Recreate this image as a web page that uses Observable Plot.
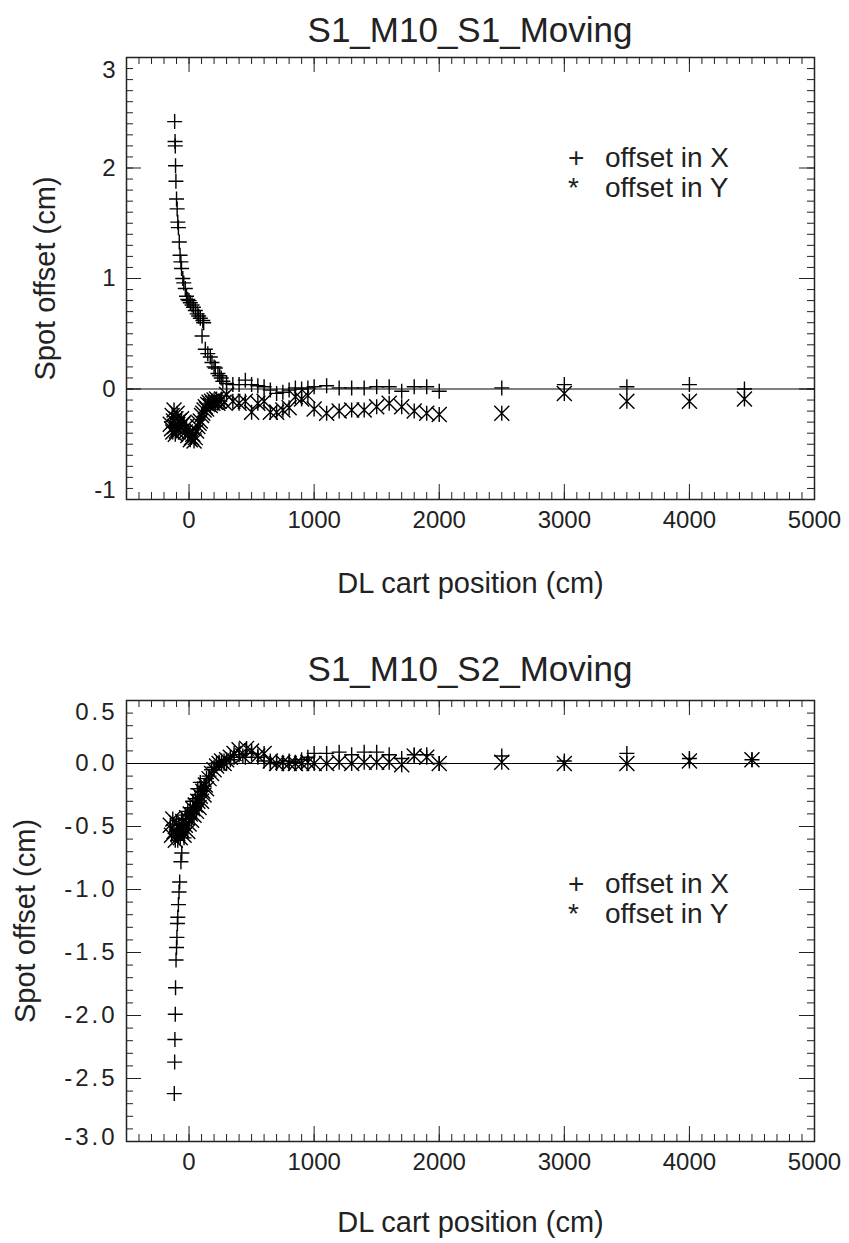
<!DOCTYPE html>
<html><head><meta charset="utf-8">
<script src="https://cdn.jsdelivr.net/npm/d3@7"></script>
<script src="https://cdn.jsdelivr.net/npm/@observablehq/plot@0.6"></script>
<style>
body{margin:0;background:#fff;width:849px;height:1243px;position:relative;overflow:hidden;font-family:"Liberation Sans",Arial,sans-serif;color:#222}
.title{position:absolute;left:126px;width:688px;text-align:center;font-size:35px;line-height:35px;white-space:nowrap}
.chart{position:absolute;left:0}
.leg{position:absolute;font-size:28px;line-height:30px;white-space:nowrap}
.leg span{position:absolute;top:0}
#c2 g[text-anchor="end"] text{letter-spacing:3px}
</style></head><body>
<div class="title" style="top:12px">S1_M10_S1_Moving</div>
<div class="chart" id="c1" style="top:50px"></div>
<div class="leg" style="left:0;top:143px;width:849px;height:60px">
  <span style="left:568px">+</span><span style="left:605px">offset in X</span>
  <span style="left:568px;top:30px">*</span><span style="left:605px;top:30px">offset in Y</span>
</div>
<div class="title" style="top:651px">S1_M10_S2_Moving</div>
<div class="chart" id="c2" style="top:690px"></div>
<div class="leg" style="left:0;top:869px;width:849px;height:60px">
  <span style="left:568px">+</span><span style="left:605px">offset in X</span>
  <span style="left:568px;top:30px">*</span><span style="left:605px;top:30px">offset in Y</span>
</div>
<script>
// ---------- Data ----------
// Top panel: S1_M10_S1_Moving
const s1XPos = [-115,-112,-110,-108,-105,-100,-95,-90,-85,-78,-72,-65,-60,-50,-42,-30,-20,-10,0,10,24,35,50,65,77,90,110,117,104,130,150,170,183,200,210,231,245,257,270,
  300,350,400,450,500,550,600,650,700,750,800,850,900,950,1000,
  1100,1200,1300,1400,1500,1600,1700,1800,1900,2000,
  2500,3000,3500,4000,4440];
const s1XOff = [2.42,2.24,2.20,2.02,1.88,1.72,1.63,1.51,1.46,1.33,1.21,1.15,1.09,1.00,0.96,0.91,0.84,0.81,0.80,0.78,0.76,0.74,0.71,0.68,0.66,0.64,0.62,0.60,0.48,0.36,0.32,0.29,0.24,0.20,0.19,0.14,0.12,0.10,0.07,
  0.05,0.04,0.04,0.08,0.04,0.03,0.02,-0.01,-0.04,-0.03,-0.01,0.01,0.00,0.01,0.02,
  0.03,0.01,0.01,0.01,0.02,0.02,-0.02,0.02,0.02,-0.02,
  0.01,0.04,0.02,0.04,0.00];
const s1YPos = [-150,-140,-135,-130,-125,-120,-115,-110,-105,-100,-95,-90,-85,-80,-70,-60,-50,-40,-30,-20,-10,0,10,20,30,40,50,60,70,80,90,100,110,120,130,140,150,160,170,180,190,200,210,220,230,240,260,280,
  300,350,400,450,500,550,600,650,700,750,800,850,900,950,1000,
  1100,1200,1300,1400,1500,1600,1700,1800,1900,2000,
  2500,3000,3500,4000,4440];
const s1YOff = [-0.32,-0.36,-0.24,-0.39,-0.29,-0.19,-0.34,-0.41,-0.27,-0.38,-0.22,-0.32,-0.36,-0.29,-0.34,-0.27,-0.32,-0.30,-0.39,-0.34,-0.42,-0.39,-0.46,-0.44,-0.41,-0.47,-0.44,-0.38,-0.34,-0.31,-0.29,-0.24,-0.22,-0.19,-0.16,-0.18,-0.14,-0.12,-0.15,-0.11,-0.13,-0.10,-0.12,-0.09,-0.13,-0.11,-0.09,-0.12,
  -0.05,-0.11,-0.13,-0.11,-0.21,-0.13,-0.11,-0.21,-0.21,-0.19,-0.17,-0.07,-0.09,-0.06,-0.18,
  -0.22,-0.20,-0.19,-0.19,-0.16,-0.13,-0.16,-0.20,-0.22,-0.23,
  -0.22,-0.04,-0.11,-0.11,-0.09];

// Bottom panel: S1_M10_S2_Moving
const s2XPos = [-118,-115,-113,-110,-108,-104,-100,-97,-93,-90,-85,-80,-75,-65,-58,
  -100,-90,-80,-70,-60,-50,-40,-30,-20,-10,0,10,20,30,40,50,60,70,80,90,100,
  120,140,160,180,200,220,240,260,280,
  300,330,360,400,450,500,550,
  600,650,700,750,800,850,900,950,
  1000,1100,1200,1300,1400,1500,1600,1700,1800,1900,2000,
  2500,3000,3500,4000,4500];
const s2XOff = [-2.62,-2.37,-2.19,-1.99,-1.78,-1.56,-1.46,-1.38,-1.27,-1.22,-1.12,-1.02,-0.94,-0.78,-0.71,
  -0.54,-0.61,-0.49,-0.57,-0.44,-0.51,-0.59,-0.41,-0.47,-0.38,-0.44,-0.35,-0.40,-0.30,-0.36,-0.28,-0.33,-0.20,-0.25,-0.15,-0.22,
  -0.18,-0.12,-0.10,-0.05,-0.03,0.00,0.01,0.00,0.02,
  0.00,0.03,0.05,0.07,0.05,0.08,0.05,
  0.02,0.00,0.01,0.00,0.02,0.01,0.03,0.05,
  0.08,0.08,0.09,0.07,0.09,0.09,0.07,0.04,0.07,0.07,0.00,
  0.06,0.02,0.08,0.04,0.03];
const s2YPos = [-150,-140,-130,-120,-110,-100,-90,-80,-70,-60,-50,-40,-30,-20,-10,0,10,20,30,40,50,60,70,80,90,100,110,120,130,140,
  160,180,200,220,240,260,280,300,
  330,360,400,430,460,500,550,
  600,650,700,750,800,850,900,950,1000,
  1100,1200,1300,1400,1500,1600,1700,1800,1900,2000,
  2500,3000,3500,4000,4500];
const s2YOff = [-0.49,-0.57,-0.44,-0.54,-0.61,-0.47,-0.56,-0.51,-0.59,-0.53,-0.46,-0.57,-0.49,-0.43,-0.54,-0.48,-0.40,-0.45,-0.36,-0.41,-0.33,-0.38,-0.30,-0.35,-0.26,-0.30,-0.22,-0.25,-0.17,-0.20,
  -0.12,-0.08,-0.05,-0.02,0.00,0.02,0.00,0.03,
  0.05,0.08,0.11,0.06,0.12,0.10,0.06,
  0.08,0.02,0.00,0.01,0.00,0.00,0.00,0.01,0.00,
  0.00,0.01,0.00,0.01,0.01,0.01,-0.01,0.06,0.05,0.00,
  0.01,0.00,0.00,0.02,0.03];

// Axis ticks / labels
const xTicks = [0,1000,2000,3000,4000,5000];
const xMinor = d3.range(-500, 5001, 100);
const xMajor = [0,1000,2000,3000,4000];
const y1Ticks = [-1,0,1,2,3];
const y1Minor = d3.range(-10, 31).map(d => d / 10);
const y2Ticks = [-3.0,-2.5,-2.0,-1.5,-1.0,-0.5,0.0,0.5];
const y2Minor = d3.range(-30, 6).map(d => d / 10);

// ---------- Drawing ----------
const plusSym = {draw(c, size){const r=Math.sqrt(size/Math.PI); c.moveTo(-r,0); c.lineTo(r,0); c.moveTo(0,-r); c.lineTo(0,r);}};
const starSym = {draw(c, size){const r=Math.sqrt(size/Math.PI); c.moveTo(0,-r); c.lineTo(0,r); c.moveTo(-r,-r); c.lineTo(r,r); c.moveTo(-r,r); c.lineTo(r,-r);}};
const rows = (p, v) => p.map((x, i) => ({pos: x, off: v[i]}));

function panel({height, marginTop, marginBottom, yDomain, yTicks, yMinor, yFmt, topDy, botDy, labDx, xPos, xOff, yPos, yOff, xLabelDy, yLabelDx}) {
  const mL = 126, mR = 35, W = 849;
  const fw = W - mL - mR, fh = height - marginTop - marginBottom;
  const yMaj = yTicks.filter(d => d > yDomain[0] && d < yDomain[1]);
  const yTop = yTicks.filter(d => d === yDomain[1]);
  const yBot = yTicks.filter(d => d === yDomain[0]);
  const ylab = (data, dy) => Plot.text(data, {y: d => d, text: yFmt, frameAnchor: "left", textAnchor: "end", dx: labDx, dy, fontSize: 24, fill: "#222"});
  return Plot.plot({
    width: W, height, marginLeft: mL, marginRight: mR, marginTop, marginBottom,
    x: {domain: [-500, 5000], axis: null},
    y: {domain: yDomain, axis: null},
    style: {fontFamily: "'Liberation Sans', Arial, sans-serif", fontSize: "24px", color: "#222", background: "transparent", overflow: "visible"},
    marks: [
      // minor & major ticks, inward on all four sides
      Plot.tickY(yMinor, {insetRight: fw - 7, stroke: "#222"}),
      Plot.tickY(yMinor, {insetLeft: fw - 7, stroke: "#222"}),
      Plot.tickY(yMaj, {insetRight: fw - 15, stroke: "#222"}),
      Plot.tickY(yMaj, {insetLeft: fw - 15, stroke: "#222"}),
      Plot.tickX(xMinor, {insetTop: fh - 7, stroke: "#222"}),
      Plot.tickX(xMinor, {insetBottom: fh - 7, stroke: "#222"}),
      Plot.tickX(xMajor, {insetTop: fh - 15, stroke: "#222"}),
      Plot.tickX(xMajor, {insetBottom: fh - 15, stroke: "#222"}),
      Plot.ruleY([0], {stroke: "#000", strokeWidth: 1}),
      Plot.frame({stroke: "#222", strokeWidth: 1.5}),
      Plot.text(xTicks, {x: d => d, text: d => String(d), frameAnchor: "bottom", lineAnchor: "top", dy: 11, fontSize: 24, fill: "#222"}),
      ylab(yMaj, 0),
      ylab(yTop, topDy),
      ylab(yBot, botDy),
      Plot.dot(rows(xPos, xOff), {x: "pos", y: "off", symbol: plusSym, r: 7.5, fill: "none", stroke: "#000", strokeWidth: 1.4}),
      Plot.dot(rows(yPos, yOff), {x: "pos", y: "off", symbol: starSym, r: 7.5, fill: "none", stroke: "#000", strokeWidth: 1.4}),
      Plot.text(["DL cart position (cm)"], {frameAnchor: "bottom", lineAnchor: "middle", dy: xLabelDy, fontSize: 29, fill: "#222"}),
      Plot.text(["Spot offset (cm)"], {frameAnchor: "left", textAnchor: "middle", lineAnchor: "middle", dx: yLabelDx, rotate: -90, fontSize: 29, fill: "#222"})
    ]
  });
}

document.getElementById("c1").append(panel({
  height: 570, marginTop: 7, marginBottom: 121,
  yDomain: [-1, 3], yTicks: y1Ticks, yMinor: y1Minor, yFmt: d => String(d), topDy: 13, botDy: -9, labDx: -11,
  xPos: s1XPos, xOff: s1XOff, yPos: s1YPos, yOff: s1YOff,
  xLabelDy: 84, yLabelDx: -81
}));
document.getElementById("c2").append(panel({
  height: 553, marginTop: 10, marginBottom: 102,
  yDomain: [-3, 0.5], yTicks: y2Ticks, yMinor: y2Minor, yFmt: d => d.toFixed(1), topDy: 12, botDy: -4, labDx: -9,
  xPos: s2XPos, xOff: s2XOff, yPos: s2YPos, yOff: s2YOff,
  xLabelDy: 81, yLabelDx: -101
}));
</script>
</body></html>
